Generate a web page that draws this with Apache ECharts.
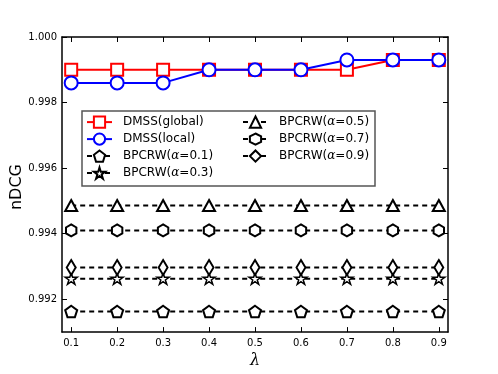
<!DOCTYPE html>
<html>
<head>
<meta charset="utf-8">
<script src="https://cdn.jsdelivr.net/npm/echarts@6/dist/echarts.min.js"></script>
<style>
  html, body { margin: 0; padding: 0; background: #fff; }
  #main { width: 498px; height: 374px; }
</style>
</head>
<body>
<div id="main"></div>
<script>
// lambda values on the x axis
var lambdas = [0.1, 0.2, 0.3, 0.4, 0.5, 0.6, 0.7, 0.8, 0.9];
var yTicks = [0.992, 0.994, 0.996, 0.998, 1.000];

// nDCG values
var dmssGlobal = [0.9990, 0.9990, 0.9990, 0.9990, 0.9990, 0.9990, 0.9990, 0.9993, 0.9993];
var dmssLocal = [0.9986, 0.9986, 0.9986, 0.9990, 0.9990, 0.9990, 0.9993, 0.9993, 0.9993];
var bpcrw01 = [0.99163, 0.99163, 0.99163, 0.99163, 0.99163, 0.99163, 0.99163, 0.99163, 0.99163];
var bpcrw03 = [0.99263, 0.99263, 0.99263, 0.99263, 0.99263, 0.99263, 0.99263, 0.99263, 0.99263];
var bpcrw05 = [0.99486, 0.99486, 0.99486, 0.99486, 0.99486, 0.99486, 0.99486, 0.99486, 0.99486];
var bpcrw07 = [0.99410, 0.99410, 0.99410, 0.99410, 0.99410, 0.99410, 0.99410, 0.99410, 0.99410];
var bpcrw09 = [0.99297, 0.99297, 0.99297, 0.99297, 0.99297, 0.99297, 0.99297, 0.99297, 0.99297];

// marker shapes that echarts does not have built in
var pentagon = 'path://M0,-1 L0.951,-0.309 L0.588,0.809 L-0.588,0.809 L-0.951,-0.309 Z';
var hexagon = 'path://M0,-1 L0.866,-0.5 L0.866,0.5 L0,1 L-0.866,0.5 L-0.866,-0.5 Z';
var star = 'path://M0,-1 L0.225,-0.309 L0.951,-0.309 L0.363,0.118 L0.588,0.809 L0,0.382 L-0.588,0.809 L-0.363,0.118 L-0.951,-0.309 L-0.225,-0.309 Z';

function pairs(vals) {
    return lambdas.map(function (x, i) { return [x, vals[i]]; });
}

function makeSeries(name, vals, color, symbol, size, dashed, bw) {
    return {
        name: name,
        type: 'line',
        data: pairs(vals),
        symbol: symbol,
        symbolSize: size,
        symbolKeepAspect: true,
        showAllSymbol: true,
        animation: false,
        lineStyle: { color: color, width: 2, type: dashed ? [5, 4] : 'solid' },
        itemStyle: { color: '#fff', borderColor: color, borderWidth: bw || 2 },
        emphasis: { disabled: true }
    };
}

var series = [
    makeSeries('DMSS(global)', dmssGlobal, '#ff0000', 'rect', 12, false),
    makeSeries('DMSS(local)', dmssLocal, '#0000ff', 'circle', 13, false),
    makeSeries('BPCRW(α=0.1)', bpcrw01, '#000', pentagon, 12, true),
    makeSeries('BPCRW(α=0.3)', bpcrw03, '#000', star, 12, true, 1.5),
    makeSeries('BPCRW(α=0.5)', bpcrw05, '#000', 'triangle', [12, 11], true),
    makeSeries('BPCRW(α=0.7)', bpcrw07, '#000', hexagon, 12, true),
    makeSeries('BPCRW(α=0.9)', bpcrw09, '#000', 'diamond', [9, 15], true)
];
// triangle and thin diamond use their own box
series[4].symbolKeepAspect = false;
series[6].symbolKeepAspect = false;

var font = 'DejaVu Sans';

var legendText = {
    fontFamily: font,
    fontSize: 12,
    color: '#000',
    padding: [0, 0, 0, 6],
    rich: { a: { fontFamily: 'DejaVu Serif', fontStyle: 'italic', fontSize: 12, color: '#000' } }
};
function legendFmt(name) {
    return name.replace('α', '{a|α}');
}

var chart = echarts.init(document.getElementById('main'), null, { renderer: 'canvas' });
chart.setOption({
    backgroundColor: '#fff',
    animation: false,
    grid: { left: 62, right: 50, top: 37, bottom: 38, containLabel: false },
    graphic: [{
        type: 'rect',
        shape: { x: 82, y: 111, width: 293, height: 75 },
        style: { fill: '#fff', stroke: '#555', lineWidth: 1.5 },
        z: 10
    }, {
        type: 'text',
        left: 9,
        top: 164,
        rotation: Math.PI / 2,
        style: { text: 'nDCG', font: '16px "DejaVu Sans"', fill: '#000' }
    }],
    legend: [{
        data: series.slice(0, 4).map(function (s) { return s.name; }),
        orient: 'vertical',
        left: 86,
        top: 115.5,
        padding: 0,
        itemWidth: 25,
        itemHeight: 14,
        itemGap: 3.8,
        z: 20,
        formatter: legendFmt,
        textStyle: legendText
    }, {
        data: series.slice(4).map(function (s) { return s.name; }),
        orient: 'vertical',
        left: 242,
        top: 115.5,
        padding: 0,
        itemWidth: 25,
        itemHeight: 14,
        itemGap: 3.8,
        z: 20,
        formatter: legendFmt,
        textStyle: legendText
    }],
    xAxis: [{
        type: 'value',
        min: 0.08,
        max: 0.92,
        name: 'λ',
        nameLocation: 'middle',
        nameGap: 17,
        nameTextStyle: { fontFamily: 'DejaVu Serif', fontStyle: 'italic', fontSize: 16, color: '#000' },
        axisLine: { onZero: false, lineStyle: { color: '#000', width: 1.5 } },
        axisTick: { inside: true, length: 5, customValues: lambdas, lineStyle: { color: '#000' } },
        axisLabel: {
            customValues: lambdas,
            margin: 6,
            fontFamily: font, fontSize: 10, color: '#000',
            formatter: function (v) { return v.toFixed(1); }
        },
        splitLine: { show: false }
    }, {
        type: 'value',
        position: 'top',
        min: 0.08,
        max: 0.92,
        axisLine: { onZero: false, lineStyle: { color: '#000', width: 1.5 } },
        axisTick: { inside: true, length: 5, customValues: lambdas, lineStyle: { color: '#000' } },
        axisLabel: { show: false },
        splitLine: { show: false }
    }],
    yAxis: [{
        type: 'value',
        min: 0.991,
        max: 1.000,
        axisLine: { onZero: false, lineStyle: { color: '#000', width: 1.5 } },
        axisTick: { inside: true, length: 5, customValues: yTicks, lineStyle: { color: '#000' } },
        axisLabel: {
            customValues: yTicks,
            margin: 5,
            fontFamily: font, fontSize: 10, color: '#000',
            formatter: function (v) { return v.toFixed(3); }
        },
        splitLine: { show: false }
    }, {
        type: 'value',
        position: 'right',
        min: 0.991,
        max: 1.000,
        axisLine: { onZero: false, lineStyle: { color: '#000', width: 1.5 } },
        axisTick: { inside: true, length: 5, customValues: yTicks, lineStyle: { color: '#000' } },
        axisLabel: { show: false },
        splitLine: { show: false }
    }],
    series: series
});
</script>
</body>
</html>
